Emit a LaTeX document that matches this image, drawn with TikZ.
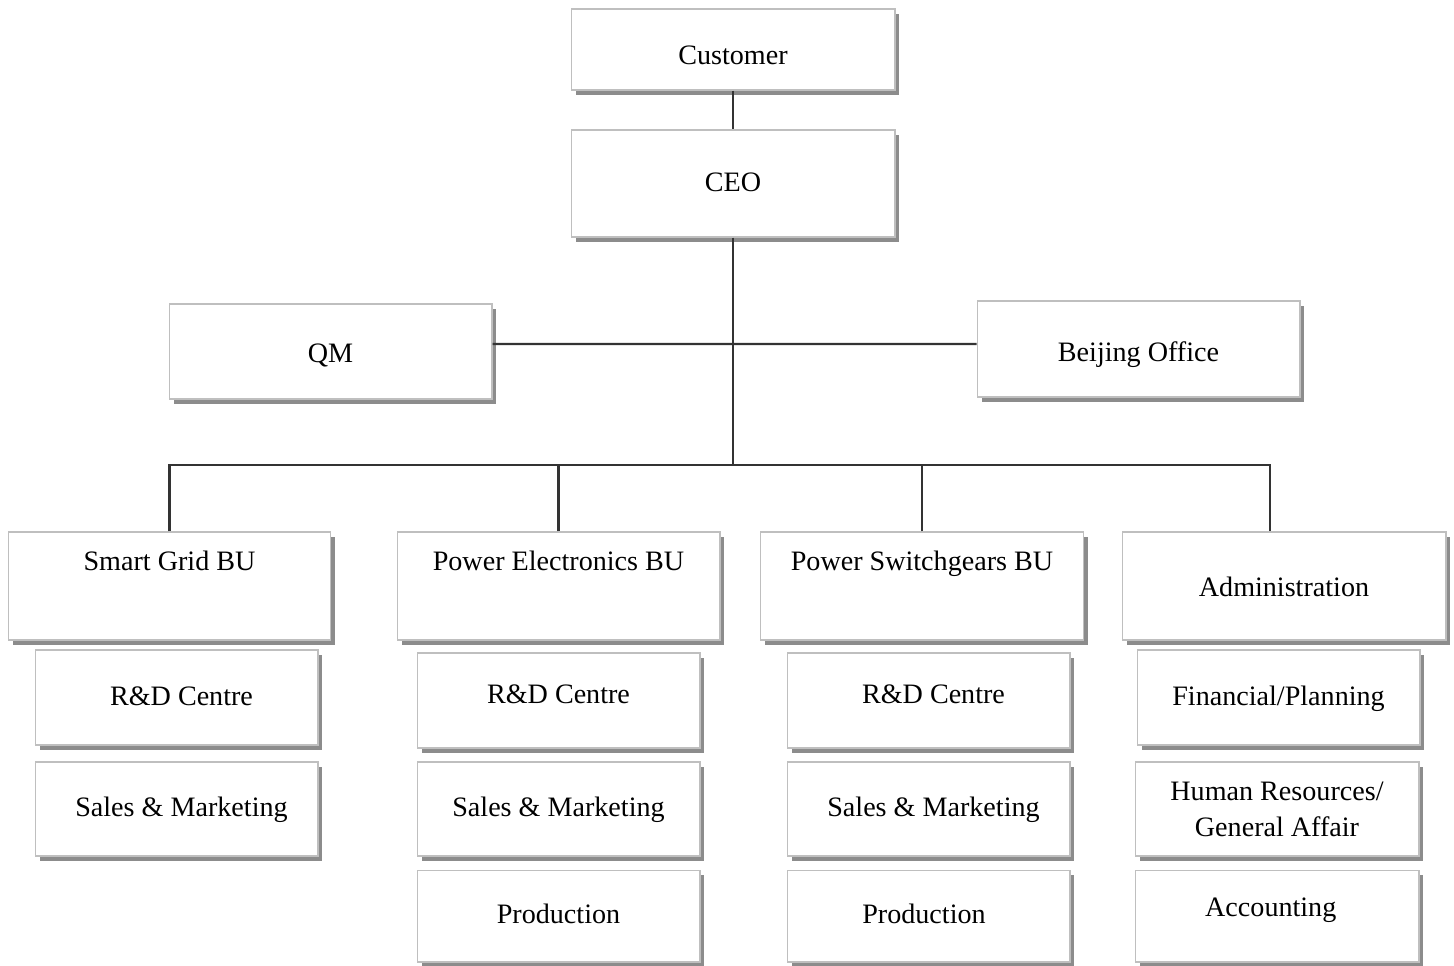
\documentclass[tikz,border=0pt]{standalone}
\usepackage{fontspec}
\setmainfont{Liberation Serif}
\usetikzlibrary{shadows}
\begin{document}
\begin{tikzpicture}[x=0.02cm,y=-0.02cm,
  box/.style={draw=black!25, line width=0.6pt, fill=white, inner sep=0pt, align=center,
    font=\fontsize{16}{20.4}\selectfont,
    drop shadow={shadow xshift=0.09cm, shadow yshift=-0.1cm, fill=black!45, opacity=1}},
  one/.style={text height=1.1em, text depth=0.2em},
  top/.style={minimum width=6.48cm},
  bu/.style={minimum width=6.46cm, minimum height=2.16cm},
  sub/.style={minimum width=5.66cm, minimum height=1.88cm},
  bulabel/.style={label={[font=\fontsize{16}{20.4}\selectfont, text height=0.75em, text depth=0.22em, yshift=0.40cm]center:#1}},
  link/.style={draw=black!80, line width=1.2pt}]
\useasboundingbox (0,0) rectangle (1454,965);

% top level
\node[box, one, top, minimum height=1.62cm] (cust) at (733,49.5) {\raisebox{-0.15cm}{Customer}};
\node[box, one, top, minimum height=2.14cm] (ceo) at (733,183.5) {CEO};
\node[box, one, minimum width=6.46cm, minimum height=1.90cm] (qm) at (330.5,351.5) {\raisebox{-0.07cm}{QM}};
\node[box, one, minimum width=6.46cm, minimum height=1.92cm] (bj) at (1138.5,349) {\raisebox{-0.1cm}{Beijing Office}};

% business units
\node[box, bu, bulabel={Smart Grid BU}] (sg) at (169.5,586) {};
\node[box, bu, bulabel={Power Electronics BU}] (pe) at (558.5,586) {};
\node[box, bu, bulabel={Power Switchgears BU}] (ps) at (922,586) {};
\node[box, one, bu, minimum width=6.48cm] (adm) at (1284,586) {\raisebox{-0.06cm}{Administration}};

% Smart Grid subunits
\node[box, one, sub, minimum height=1.90cm] (sgrd) at (176.5,697.5) {\hspace*{0.2cm}R\&D Centre};
\node[box, one, sub] (sgsm) at (176.5,809) {\hspace*{0.2cm}Sales \& Marketing};

% Power Electronics subunits
\node[box, one, sub, minimum height=1.90cm] (perd) at (558.5,700.5) {\raisebox{0.09cm}{R\&D Centre}};
\node[box, one, sub] (pesm) at (558.5,809) {Sales \& Marketing};
\node[box, one, sub, minimum height=1.84cm] (pepr) at (558.5,916) {Production};

% Power Switchgears subunits
\node[box, one, sub, minimum height=1.90cm] (psrd) at (928.5,700.5) {\raisebox{0.09cm}{\hspace*{0.2cm}R\&D Centre}};
\node[box, one, sub] (pssm) at (928.5,809) {\hspace*{0.2cm}Sales \& Marketing};
\node[box, one, sub, minimum height=1.84cm] (pspr) at (928.5,916) {Production\hspace*{0.18cm}};

% Administration subunits
\node[box, one, sub, minimum height=1.90cm] (fin) at (1278.5,697.5) {Financial/Planning};
\node[box, sub, minimum width=5.68cm] (hr) at (1277,809) {Human Resources/\\General Affair};
\node[box, one, sub, minimum width=5.68cm, minimum height=1.84cm] (acc) at (1277,916) {\raisebox{0.14cm}{Accounting\hspace*{0.25cm}}};

% connectors
\coordinate (bus) at (733,465);
\draw[link] (cust.south) -- (ceo.north);
\draw[link] (ceo.south) -- (bus);
\draw[link] ([yshift=0.15cm]qm.east) -- ([yshift=0.10cm]bj.west);
\draw[link] (sg.north) |- (bus) -| ([xshift=-0.28cm]adm.north);
\draw[link] (pe.north) -- (pe.north |- bus);
\draw[link] (ps.north) -- (ps.north |- bus);
\end{tikzpicture}
\end{document}
